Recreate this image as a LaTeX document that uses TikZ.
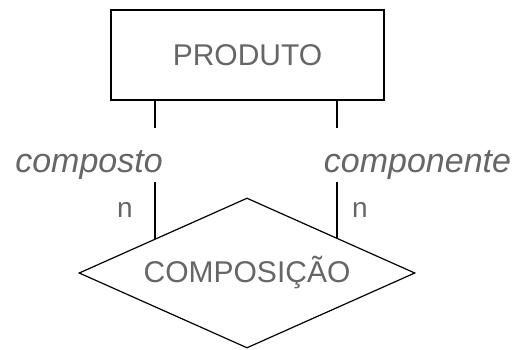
\documentclass[tikz,border=0pt]{standalone}
\usepackage{fontspec}
\setmainfont{Liberation Sans}
\usetikzlibrary{shapes.geometric,positioning}

\tikzset{
    entity/.style={draw, line width=0.6pt, minimum width=136.5pt, minimum height=45pt, inner sep=0pt},
    relation/.style={draw, diamond, aspect=2.24, line width=0.6pt, minimum width=168pt, minimum height=75pt, inner sep=0pt},
    rolename/.style={fill=white, text=black!60, font=\fontsize{17}{20}\selectfont\itshape, text height=21pt, text depth=4pt, inner ysep=1pt, inner xsep=0pt},
    card/.style={text=black!60, font=\fontsize{14}{16}\selectfont, inner sep=0pt},
    link/.style={line width=0.6pt}
}

\begin{document}
\begin{tikzpicture}[x=0.5pt, y=-0.5pt]
    \useasboundingbox (0,0) rectangle (515,349);

    % Entity and relationship
    \node[entity, text=black!60, font=\fontsize{15}{18}\selectfont] (produto) at (247.5,55) {PRODUTO};
    \node[relation, text=black!60, font=\fontsize{15}{18}\selectfont] (composicao) at (247,273) {COMPOSIÇÃO};

    % Where the connectors meet the diamond
    \coordinate (endL) at (intersection of composicao.west--composicao.north and 155,0--155,349);
    \coordinate (endR) at (intersection of composicao.east--composicao.north and 337,0--337,349);

    % Connectors
    \draw[link] (produto.south -| endL) -- (endL);
    \draw[link] (produto.south -| endR) -- (endR);

    % Role names (cover the connectors)
    \node[rolename, anchor=base] (composto) at (89,172) {composto};
    \node[rolename, anchor=base] (componente) at (417.5,172) {componente};

    % Cardinalities
    \node[card, anchor=base] (cardL) at (125,217) {n};
    \node[card, anchor=base] (cardR) at (360,217) {n};
\end{tikzpicture}
\end{document}
